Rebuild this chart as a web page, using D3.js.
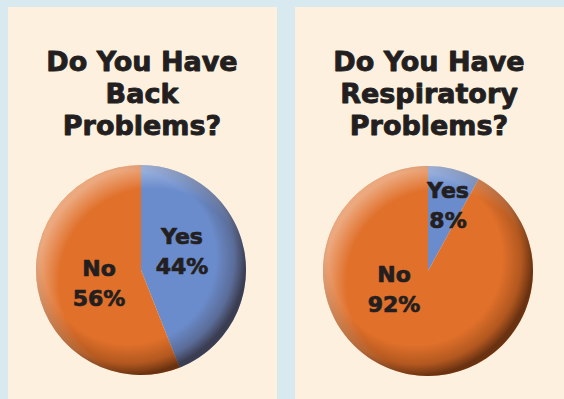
<!DOCTYPE html>
<html>
<head>
<meta charset="utf-8">
<script src="https://cdn.jsdelivr.net/npm/d3@7/dist/d3.min.js"></script>
<style>
  html, body { margin: 0; padding: 0; background: #d9e9f0; }
  svg { display: block; }
</style>
</head>
<body>
<script>
// Survey answers, one pie per question
const questions = [["Do You Have", "Back", "Problems?"], ["Do You Have", "Respiratory", "Problems?"]];
const answers = ["Yes", "No"];
const backValues = [44, 56];
const respiratoryValues = [8, 92];
const sliceColors = ["#6b8ccc", "#e0702a"];

const W = 564, H = 399;
const svg = d3.select("body").append("svg").attr("width", W).attr("height", H);

// Panel layout
const panels = [
  { x: 8, w: 269, values: backValues, title: questions[0], cx: 141, cy: 270,
    labelOffsets: [[41, -26], [-42, 6]] },
  { x: 295, w: 269, values: respiratoryValues, title: questions[1], cx: 428, cy: 271,
    labelOffsets: [[20, -73], [-34, 11]] }
];
const R = 105;
const FONT = "'DejaVu Sans', Lato, sans-serif";
const INK = "#231f20";

const defs = svg.append("defs");
// Rim shading: dark towards lower right, light towards upper left
const shade = defs.append("radialGradient").attr("id", "shade")
  .attr("cx", 0.44).attr("cy", 0.44).attr("r", 0.56);
shade.append("stop").attr("offset", 0.74).attr("stop-color", "#2a1000").attr("stop-opacity", 0);
shade.append("stop").attr("offset", 0.9).attr("stop-color", "#2a1000").attr("stop-opacity", 0.25);
shade.append("stop").attr("offset", 1).attr("stop-color", "#1a0800").attr("stop-opacity", 0.6);
const light = defs.append("radialGradient").attr("id", "light")
  .attr("cx", 0.56).attr("cy", 0.56).attr("r", 0.56);
light.append("stop").attr("offset", 0.8).attr("stop-color", "#fff").attr("stop-opacity", 0);
light.append("stop").attr("offset", 1).attr("stop-color", "#fff").attr("stop-opacity", 0.4);

const pie = d3.pie().sort(null).value(d => d);
const arc = d3.arc().innerRadius(0).outerRadius(R);

panels.forEach(p => {
  svg.append("rect").attr("x", p.x).attr("y", 7).attr("width", p.w).attr("height", H - 7)
    .attr("fill", "#fdf0df");

  const midX = p.x + p.w / 2;
  svg.append("text")
    .attr("x", midX - 0.5).attr("y", 71)
    .attr("text-anchor", "middle")
    .attr("font-family", FONT)
    .attr("font-weight", "bold")
    .attr("font-size", 27)
    .attr("fill", INK)
    .attr("stroke", INK).attr("stroke-width", 0.9).attr("stroke-linejoin", "round")
    .selectAll("tspan").data(p.title).join("tspan")
    .attr("x", midX - 0.5).attr("dy", (d, i) => i === 0 ? 0 : 32)
    .text(d => d);

  const g = svg.append("g").attr("transform", `translate(${p.cx},${p.cy})`);
  const arcs = pie(p.values);
  g.selectAll("path.slice").data(arcs).join("path")
    .attr("class", "slice")
    .attr("d", arc)
    .attr("fill", (d, i) => sliceColors[i]);
  g.append("circle").attr("r", R).attr("fill", "url(#light)");
  g.append("circle").attr("r", R).attr("fill", "url(#shade)");

  const lab = g.selectAll("text.lab").data(arcs).join("text")
    .attr("class", "lab")
    .attr("text-anchor", "middle")
    .attr("font-family", FONT)
    .attr("font-weight", "bold")
    .attr("font-size", 22)
    .attr("fill", INK)
    .attr("stroke", INK).attr("stroke-width", 0.7).attr("stroke-linejoin", "round")
    .attr("transform", (d, i) => `translate(${p.labelOffsets[i][0]},${p.labelOffsets[i][1]})`);
  lab.append("tspan").attr("x", 0).attr("dy", 0).text((d, i) => answers[i]);
  lab.append("tspan").attr("x", 0).attr("dy", 30).text(d => d.data + "%");
});
</script>
</body>
</html>
